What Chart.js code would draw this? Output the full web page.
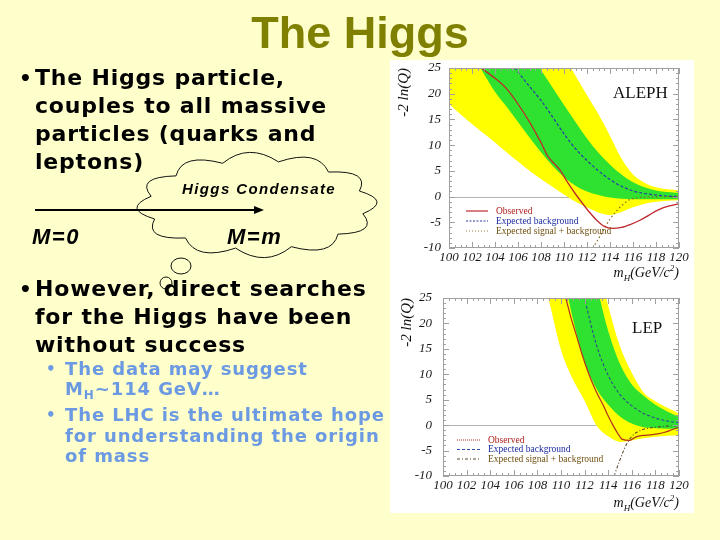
<!DOCTYPE html>
<html>
<head>
<meta charset="utf-8">
<title>The Higgs</title>
<script src="https://cdn.jsdelivr.net/npm/chart.js@4.4.1/dist/chart.umd.min.js"></script>
<style>
  html, body { margin:0; padding:0; }
  body { width:720px; height:540px; background:#ffffcc; position:relative; overflow:hidden;
         font-family:"DejaVu Sans", Verdana, sans-serif; }
  #deco { position:absolute; left:0; top:0; }
  #title { position:absolute; left:0; top:7px; width:720px; text-align:center; line-height:1;
           font:bold 45px "Liberation Sans", Arial, sans-serif; color:#7f7f00; }
  .blk { position:absolute; left:35px; font-weight:bold; font-size:22px; line-height:28px;
         letter-spacing:0.8px; color:#000; white-space:nowrap; }
  .blk .dot { position:absolute; left:-16px; top:0; font-size:20px; }
  .sub { position:absolute; left:65px; font-weight:bold; font-size:18px; line-height:20px;
         letter-spacing:0.9px; color:#6b99e2; white-space:nowrap; }
  .sub .dot { position:absolute; left:-19px; top:0; font-size:15px; }
  .sub .ix { position:relative; top:4px; font-size:12px; }
  .cl { position:absolute; left:182px; top:180px; line-height:1; letter-spacing:1.4px;
        font:bold italic 15px "Liberation Sans", Arial, sans-serif; }
  .mm { position:absolute; top:224px; line-height:1; letter-spacing:1.5px;
        font:bold italic 22px "Liberation Sans", Arial, sans-serif; }
  .panel { position:absolute; left:390px; width:304px; background:#fff; }
</style>
</head>
<body>
<canvas id="deco" width="720" height="540"></canvas>
<div id="title">The Higgs</div>

<div class="blk" style="top:64px"><span class="dot">•</span>The Higgs particle,<br>couples to all massive<br>particles (quarks and<br>leptons)</div>
<div class="cl">Higgs Condensate</div>
<div class="mm" style="left:32px">M=0</div>
<div class="mm" style="left:227px">M=m</div>
<div class="blk" style="top:275px"><span class="dot">•</span>However, direct searches<br>for the Higgs have been<br>without success</div>
<div class="sub" style="top:359px"><span class="dot">•</span>The data may suggest<br>M<span class="ix">H</span>~114 GeV…</div>
<div class="sub" style="top:405px;line-height:20.5px"><span class="dot">•</span>The LHC is the ultimate hope<br>for understanding the origin<br>of mass</div>

<div class="panel" style="top:60px;height:227px"><canvas id="aleph"></canvas></div>
<div class="panel" style="top:287px;height:226px"><canvas id="lep"></canvas></div>

<script>
var mH = [100,101,102,103,104,105,106,107,108,109,110,111,112,113,114,115,116,117,118,119,120];
var xTicks = [100,102,104,106,108,110,112,114,116,118,120];
var yTicks = [-10,-5,0,5,10,15,20,25];

// ALEPH
var alephYellowHi = [64.8,61,57.3,53.5,49.8,46,42.3,38.5,34.8,31,27.3,23.5,19.7,16.0,11.8,7.4,4.3,2.7,1.8,1.4,1.2];
var alephGreenHi  = [49,46,43,40,37,34,31,27.8,24.6,21.2,17.8,14.5,11.3,8.5,6.2,4.3,2.8,1.8,1.2,0.9,0.7];
var alephExpBkg   = [41,38,35,32,29.5,27,24.2,21.4,18.7,15.5,12.2,9.3,7.0,5.0,3.3,2.0,1.1,0.6,0.3,0.1,0];
var alephGreenLo  = [36,32,28,24,20.4,17.5,14.5,11.5,8.6,6.0,3.8,2.1,1.0,0.3,-0.2,-0.4,-0.5,-0.5,-0.5,-0.5,-0.5];
var alephYellowLo = [18,16,14.1,12.3,10.5,8.6,6.8,5.0,3.4,1.9,0.4,-1.0,-2.1,-3.1,-3.6,-3.0,-2.1,-1.4,-1.0,-0.8,-0.7];
var alephObsMass  = [102.8,104,105,106,107,108,108.6,109.2,109.7,110.3,111,111.6,112.2,112.8,113.5,114.2,115,115.8,116.6,117.4,118.2,119,120];
var alephObs      = [25,23,21,18,14.5,10.5,7.8,6.3,5.0,2.8,0.5,-1.3,-3.0,-4.5,-5.8,-6.2,-6.0,-5.4,-4.6,-3.6,-2.6,-1.9,-1.4];
var alephSigMass  = [112.5,113,114,115,115.7,116.5,118,120];
var alephSig      = [-10,-8.2,-4.4,-1.8,-0.6,-0.2,-0.05,0];

// LEP combined
var lepYellowHi = [160,150,140,130,120,110,100,90,80,70,61,52,43,33,23.5,15.5,10.3,6.4,4.7,3.4,2.3];
var lepGreenHi  = [131,123,115,107,99,91,83,75,67,59,51,43,35,27.5,18.5,12,8.0,5.8,4.0,2.7,1.6];
var lepExpBkg   = [null,null,null,null,null,null,null,null,null,null,null,36,25,15.8,9.8,6.0,3.8,2.3,1.4,0.8,0.5];
var lepGreenLo  = [130,120,110,100,90,80,70,62,53,43,32,21,12.5,7.2,4.0,1.7,0.3,-0.4,-0.6,-0.7,-0.7];
var lepYellowLo = [105,96,87,78,69,60,51,42,33,24.3,14.8,9.0,4.8,0.0,-2.2,-3.3,-3.0,-2.6,-2.3,-2.1,-2.0];
var lepObsMass  = [110.3,110.8,111.3,111.8,112.4,113,113.6,114,114.4,114.8,115.2,115.8,116.2,116.5,117,117.6,118.2,118.8,119.4,120];
var lepObs      = [26,21.5,17.7,13.8,9.8,6.5,3.8,1.8,0,-1.6,-2.8,-3.0,-2.5,-2.2,-2.0,-1.9,-1.7,-1.4,-0.9,-0.4];
var lepSigMass  = [114.5,115,115.5,116,116.5,117,118,119,120];
var lepSig      = [-10,-6.8,-4.0,-2.2,-1.3,-0.8,-0.4,-0.2,-0.1];

var YELLOW = '#ffff00', GREEN = '#2fe22f';
var SERIF = '"Liberation Serif", "DejaVu Serif", serif';

function pts(xs, ys) {
  return xs.map(function (x, i) { return {x: x, y: ys[i]}; });
}

// capBezierPoints off: edges run far above the frame and must not be squashed onto it
function band(ys, color, fill, order) {
  return {data: pts(mH, ys), borderWidth: 0, pointRadius: 0, backgroundColor: color,
          fill: fill, order: order, cubicInterpolationMode: 'monotone', capBezierPoints: false};
}

function curve(xs, ys, color, dash, width, order) {
  return {data: pts(xs, ys), borderColor: color, borderDash: dash, borderWidth: width,
          pointRadius: 0, fill: false, order: order, cubicInterpolationMode: 'monotone',
          capBezierPoints: false};
}

// frame, inward ticks, zero line, label, legend and axis titles (ROOT look)
function decor(o) {
  return {
    id: 'decor',
    beforeDatasetsDraw: function (chart) {
      var ctx = chart.ctx, a = chart.chartArea, y = chart.scales.y;
      var y0 = Math.round(y.getPixelForValue(0)) + 0.5;
      ctx.save();
      ctx.strokeStyle = '#b4b4b4'; ctx.lineWidth = 1;
      ctx.beginPath(); ctx.moveTo(a.left, y0); ctx.lineTo(a.right, y0); ctx.stroke();
      ctx.restore();
    },
    afterDraw: function (chart) {
      var ctx = chart.ctx, a = chart.chartArea, x = chart.scales.x, y = chart.scales.y;
      ctx.save();
      ctx.strokeStyle = '#a0a0a0'; ctx.lineWidth = 1;
      ctx.strokeRect(a.left + 0.5, a.top + 0.5, a.right - a.left - 1, a.bottom - a.top - 1);
      ctx.beginPath();
      var m, v, px, py, len;
      for (m = 100; m <= 120.001; m += 0.5) {
        px = Math.round(x.getPixelForValue(m)) + 0.5;
        len = (xTicks.indexOf(m) >= 0) ? 6 : 3;
        ctx.moveTo(px, a.bottom); ctx.lineTo(px, a.bottom - len);
        ctx.moveTo(px, a.top); ctx.lineTo(px, a.top + len);
      }
      for (v = -10; v <= 25; v += 1) {
        py = Math.round(y.getPixelForValue(v)) + 0.5;
        len = (yTicks.indexOf(v) >= 0) ? 6 : 3;
        ctx.moveTo(a.left, py); ctx.lineTo(a.left + len, py);
        ctx.moveTo(a.right, py); ctx.lineTo(a.right - len, py);
      }
      ctx.stroke();

      // experiment label
      ctx.fillStyle = '#111';
      ctx.font = o.labelSize + 'px ' + SERIF;
      ctx.textAlign = 'left'; ctx.textBaseline = 'alphabetic';
      ctx.fillText(o.label, o.labelX, o.labelY);

      // legend
      ctx.font = '9.5px ' + SERIF;
      ctx.textBaseline = 'middle';
      o.legend.forEach(function (e, i) {
        var ly = o.legY + i * o.legStep;
        ctx.strokeStyle = e.line; ctx.lineWidth = 1.2; ctx.setLineDash(e.dash);
        ctx.beginPath(); ctx.moveTo(o.legX, ly); ctx.lineTo(o.legX + o.legLen, ly); ctx.stroke();
        ctx.setLineDash([]);
        ctx.fillStyle = e.text;
        ctx.fillText(e.label, o.legX + o.legLen + 8, ly);
      });

      // y title
      ctx.fillStyle = '#111';
      ctx.save();
      ctx.translate(o.yTitleX, a.top);
      ctx.rotate(-Math.PI / 2);
      ctx.font = 'italic 15px ' + SERIF;
      ctx.textAlign = 'right'; ctx.textBaseline = 'middle';
      ctx.fillText('-2 ln(Q)', 0, 0);
      ctx.restore();

      // x title  m_H(GeV/c^2)
      var parts = [['m', 14, 0], ['H', 9, 4], ['(GeV/c', 14, 0], ['2', 9, -6], [')', 14, 0]];
      var w = 0;
      parts.forEach(function (p) { ctx.font = 'italic ' + p[1] + 'px ' + SERIF; w += ctx.measureText(p[0]).width; });
      var tx = a.right - w;
      ctx.textAlign = 'left'; ctx.textBaseline = 'alphabetic';
      parts.forEach(function (p) {
        ctx.font = 'italic ' + p[1] + 'px ' + SERIF;
        ctx.fillText(p[0], tx, o.xTitleY + p[2]);
        tx += ctx.measureText(p[0]).width;
      });
      ctx.restore();
    }
  };
}

function makeChart(id, sets, o) {
  var tickFont = {family: SERIF, size: 13, style: 'italic'};
  return new Chart(document.getElementById(id), {
    type: 'line',
    data: {datasets: sets},
    options: {
      responsive: true, maintainAspectRatio: false, animation: false, events: [],
      layout: {padding: {top: o.padTop, right: 15, left: 0, bottom: 0}},
      scales: {
        x: {type: 'linear', min: 100, max: 120,
            grid: {display: false, drawTicks: false}, border: {display: false},
            afterBuildTicks: function (s) { s.ticks = xTicks.map(function (t) { return {value: t}; }); },
            afterFit: function (s) { s.height = o.xHeight; },
            ticks: {font: tickFont, color: '#1a1a1a', padding: 2, autoSkip: false, maxRotation: 0}},
        y: {type: 'linear', min: -10, max: 25,
            grid: {display: false, drawTicks: false}, border: {display: false},
            afterBuildTicks: function (s) { s.ticks = yTicks.map(function (t) { return {value: t}; }); },
            // fixed width, and no extra room reserved above/below for the end labels
            afterFit: function (s) { s.width = o.yWidth; s.paddingTop = 0; s.paddingBottom = 0; },
            ticks: {font: tickFont, color: '#1a1a1a', padding: o.yPad}}
      },
      plugins: {legend: {display: false}, tooltip: {enabled: false}}
    },
    plugins: [decor(o)]
  });
}

makeChart('aleph', [
  band(alephYellowHi, YELLOW, '+1', 5),
  band(alephYellowLo, YELLOW, false, 5),
  band(alephGreenHi, GREEN, '+1', 4),
  band(alephGreenLo, GREEN, false, 4),
  curve(mH, alephExpBkg, '#2a3aa8', [3, 2], 1.2, 2),
  curve(alephSigMass, alephSig, '#8a6a20', [1.5, 2.5], 1.2, 1),
  curve(alephObsMass, alephObs, '#c0282d', [], 1.3, 0)
], {
  padTop: 8, xHeight: 39, yWidth: 59, yPad: 8,
  label: 'ALEPH', labelSize: 17, labelX: 223, labelY: 38,
  legX: 76, legLen: 22, legY: 151, legStep: 10,
  legend: [
    {label: 'Observed', line: '#c0282d', dash: [], text: '#b0201c'},
    {label: 'Expected background', line: '#2a3aa8', dash: [2, 1.5], text: '#1a2aa0'},
    {label: 'Expected signal + background', line: '#a08040', dash: [1, 2], text: '#705010'}
  ],
  yTitleX: 14, xTitleY: 217
});

makeChart('lep', [
  band(lepYellowHi, YELLOW, '+1', 5),
  band(lepYellowLo, YELLOW, false, 5),
  band(lepGreenHi, GREEN, '+1', 4),
  band(lepGreenLo, GREEN, false, 4),
  curve(mH, lepExpBkg, '#30488f', [3, 2], 1.1, 2),
  curve(lepSigMass, lepSig, '#5a4a2a', [3, 2, 1, 2], 1.1, 1),
  curve(lepObsMass, lepObs, '#b03020', [], 1.2, 0)
], {
  padTop: 11, xHeight: 37, yWidth: 53, yPad: 11,
  label: 'LEP', labelSize: 17, labelX: 242, labelY: 46,
  legX: 67, legLen: 23, legY: 153, legStep: 9.5,
  legend: [
    {label: 'Observed', line: '#b03020', dash: [1, 1], text: '#b0201c'},
    {label: 'Expected background', line: '#3050b0', dash: [3, 2], text: '#1a2aa0'},
    {label: 'Expected signal + background', line: '#5a4a2a', dash: [3, 2, 1, 2], text: '#705010'}
  ],
  yTitleX: 17, xTitleY: 220
});

// thought-bubble and arrow on the left
(function () {
  var g = document.getElementById('deco').getContext('2d');
  var cx = 257, cy = 205, rx = 108, ry = 44, n = 12, kx = 1.26, ky = 1.43, t0 = 0.2;
  g.strokeStyle = '#111'; g.lineWidth = 1;
  g.beginPath();
  for (var i = 0; i < n; i++) {
    var a1 = t0 + 2 * Math.PI * i / n, a2 = t0 + 2 * Math.PI * (i + 1) / n, am = (a1 + a2) / 2;
    if (i === 0) g.moveTo(cx + rx * Math.cos(a1), cy + ry * Math.sin(a1));
    g.quadraticCurveTo(cx + kx * rx * Math.cos(am), cy + ky * ry * Math.sin(am),
                       cx + rx * Math.cos(a2), cy + ry * Math.sin(a2));
  }
  g.closePath(); g.stroke();
  g.beginPath(); g.ellipse(181, 266, 10, 8, 0, 0, 2 * Math.PI); g.stroke();
  g.beginPath(); g.arc(166, 283, 6, 0, 2 * Math.PI); g.stroke();

  g.lineWidth = 2; g.strokeStyle = '#000'; g.fillStyle = '#000';
  g.beginPath(); g.moveTo(35, 210); g.lineTo(256, 210); g.stroke();
  g.beginPath(); g.moveTo(264, 210); g.lineTo(254, 206); g.lineTo(254, 214); g.closePath(); g.fill();
})();
</script>
</body>
</html>
